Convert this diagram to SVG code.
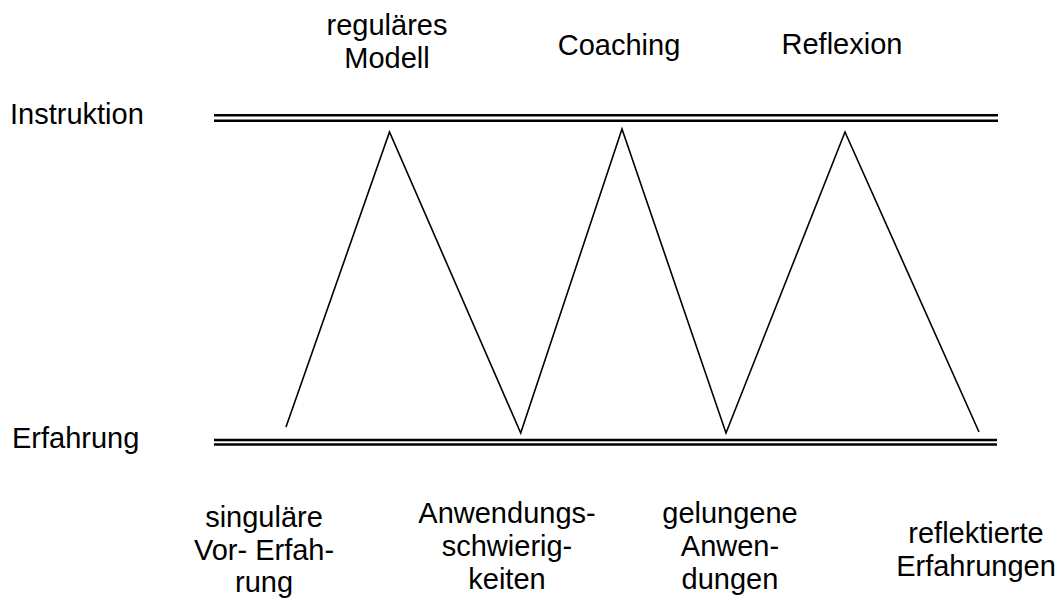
<svg xmlns="http://www.w3.org/2000/svg" width="1062" height="599" viewBox="0 0 1062 599">
<style>
text{font-family:"Liberation Sans",Arial,sans-serif;font-size:29px;fill:#000}
.c{text-anchor:middle}
.rail{stroke:#000;stroke-width:2.5;fill:none}
.zig{stroke:#000;stroke-width:1.6;fill:none;stroke-linejoin:miter}
</style>
<rect width="1062" height="599" fill="#fff"/>
<g id="rail-instruktion">
<line class="rail" x1="214" y1="115.3" x2="998" y2="115.3"/>
<line class="rail" x1="214" y1="120.7" x2="998" y2="120.7"/>
<text x="10" y="124">Instruktion</text>
</g>
<g id="rail-erfahrung">
<line class="rail" x1="214" y1="440" x2="997" y2="440"/>
<line class="rail" x1="214" y1="444.6" x2="997" y2="444.6"/>
<text x="12" y="448">Erfahrung</text>
</g>
<g id="connectors">
<polyline class="zig" points="286,427 389.5,132 520.7,433 622,129 726,433 845,132 979,432"/>
</g>
<g id="label-modell">
<text class="c" x="387" y="35">reguläres</text>
<text class="c" x="387" y="68">Modell</text>
</g>
<g id="label-coaching"><text class="c" x="619" y="55">Coaching</text></g>
<g id="label-reflexion"><text class="c" x="842" y="54">Reflexion</text></g>
<g id="label-singulaer">
<text class="c" x="264" y="527">singuläre</text>
<text class="c" x="264" y="560">Vor- Erfah-</text>
<text class="c" x="264" y="592">rung</text>
</g>
<g id="label-anwendungsschwierig">
<text class="c" x="507" y="523">Anwendungs-</text>
<text class="c" x="507" y="556">schwierig-</text>
<text class="c" x="507" y="589">keiten</text>
</g>
<g id="label-gelungen">
<text class="c" x="730" y="523">gelungene</text>
<text class="c" x="730" y="556">Anwen-</text>
<text class="c" x="730" y="589">dungen</text>
</g>
<g id="label-reflektiert">
<text class="c" x="976" y="543">reflektierte</text>
<text class="c" x="976" y="576">Erfahrungen</text>
</g>
</svg>
